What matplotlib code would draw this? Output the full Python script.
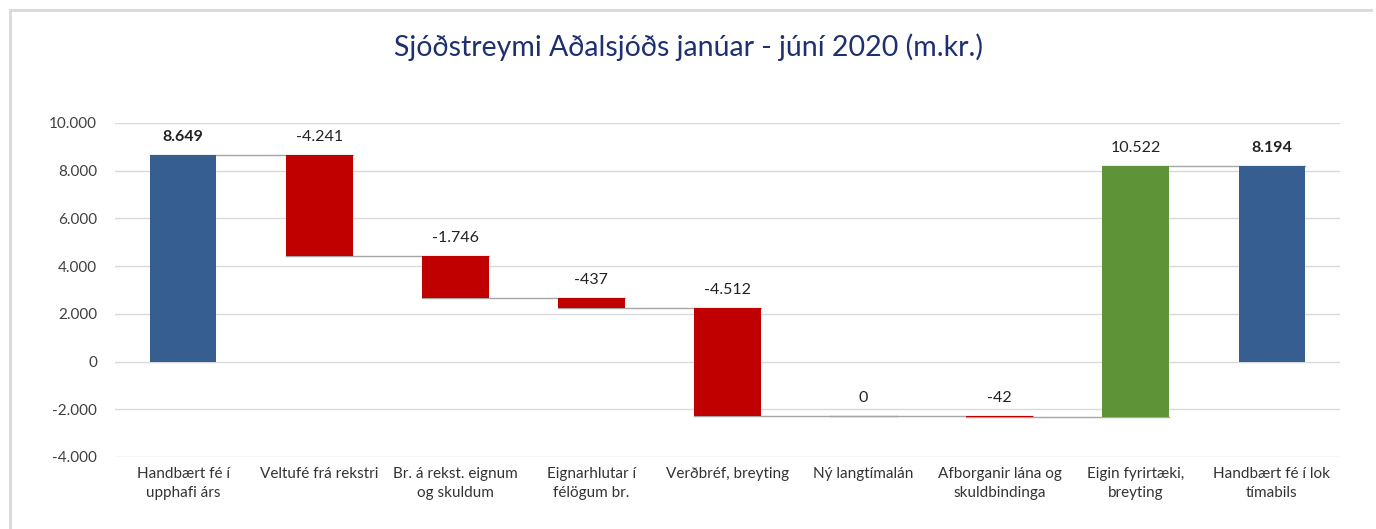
import matplotlib
matplotlib.use("Agg")
import matplotlib.pyplot as plt
from matplotlib.ticker import FuncFormatter, MultipleLocator
from matplotlib.lines import Line2D

categories = ["Handbært fé í\nupphafi árs", "Veltufé frá rekstri", "Br. á rekst. eignum\nog skuldum",
              "Eignarhlutar í\nfélögum br.", "Verðbréf, breyting", "Ný langtímalán",
              "Afborganir lána og\nskuldbindinga", "Eigin fyrirtæki,\nbreyting", "Handbært fé í lok\ntímabils"]
values = [8649, -4241, -1746, -437, -4512, 0, -42, 10522, 8194]
kinds = ["total", "change", "change", "change", "change", "change", "change", "change", "total"]
title = "Sjóðstreymi Aðalsjóðs janúar - júní 2020 (m.kr.)"

BLUE = "#375E91"
RED = "#C00000"
GREEN = "#5E9437"
FONT = ["Lato", "DejaVu Sans"]
plt.rcParams['font.family'] = FONT

def fmt(v):
    s = f"{abs(v):,.0f}".replace(",", ".")
    return ("-" if v < 0 else "") + s

fig = plt.figure(figsize=(13.76, 5.29), dpi=100)
ax = fig.add_axes([115/1376, 1 - 457/529, (1340-115)/1376, (457-123)/529])

x = list(range(len(categories)))
bottoms, heights, colors, tops = [], [], [], []
running = 0
for v, k in zip(values, kinds):
    if k == "total":
        bottoms.append(0); heights.append(v); colors.append(BLUE)
        running = v
        tops.append(v)
    else:
        start = running
        end = running + v
        bottoms.append(min(start, end)); heights.append(abs(v))
        colors.append(RED if v < 0 else GREEN)
        tops.append(max(start, end))
        running = end

ax.bar(x, heights, bottom=bottoms, width=0.49, color=colors, zorder=3)

# connectors
levels = []
running = 0
for v, k in zip(values, kinds):
    running = v if k == "total" else running + v
    levels.append(running)
for i in range(len(x) - 1):
    ax.plot([x[i] - 0.245, x[i + 1] + 0.245], [levels[i], levels[i]], color="#A6A6A6", lw=1.0, zorder=2)

for i, (v, k) in enumerate(zip(values, kinds)):
    ax.annotate(fmt(v), (x[i], tops[i]), xytext=(0, 8), textcoords="offset points",
                ha="center", va="bottom", fontsize=11.5, color="#222222",
                fontweight="bold" if k == "total" else "normal")

ax.set_xlim(-0.5, len(categories) - 0.5)
ax.set_ylim(-4000, 10000)
ax.yaxis.set_major_locator(MultipleLocator(2000))
ax.yaxis.set_major_formatter(FuncFormatter(lambda v, p: fmt(v)))
ax.grid(axis="y", color="#D9D9D9", lw=1.0, zorder=0)
for s in ax.spines.values():
    s.set_visible(False)
ax.tick_params(axis="both", length=0, labelsize=11, colors="#404040")
ax.tick_params(axis="y", pad=13)
ax.set_xticks(x)
ax.set_xticklabels(categories, fontsize=11, color="#333333", linespacing=1.45)
ax.tick_params(axis="x", pad=7)

fig.text(0.5, 1 - 47/529, title, ha="center", va="center", fontsize=20.5, color="#1F3070")

# outer frame
fig.add_artist(Line2D([10/1376, 1371/1376], [1 - 10/529, 1 - 10/529], color="#D9D9D9", lw=2, transform=fig.transFigure))
fig.add_artist(Line2D([10/1376, 10/1376], [1 - 10/529, 0], color="#D9D9D9", lw=2, transform=fig.transFigure))

fig.savefig("out.png", dpi=100, facecolor="white")
